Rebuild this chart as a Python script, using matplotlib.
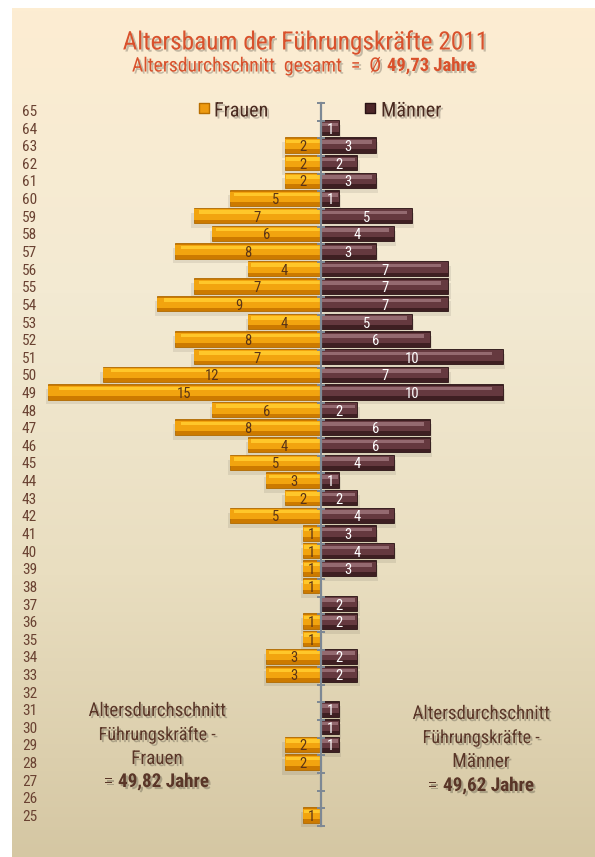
import numpy as np
import matplotlib
matplotlib.use("Agg")
import matplotlib.pyplot as plt
import matplotlib.patheffects as pe
from matplotlib import font_manager as fm
from matplotlib.colors import LinearSegmentedColormap

# data
ages = list(range(65, 24, -1))
frauen = [0, 0, 2, 2, 2, 5, 7, 6, 8, 4, 7, 9, 4, 8, 7, 12, 15, 6, 8, 4, 5,
          3, 2, 5, 1, 1, 1, 1, 0, 1, 1, 3, 3, 0, 0, 0, 2, 2, 0, 0, 1]
maenner = [0, 1, 3, 2, 3, 1, 5, 4, 3, 7, 7, 7, 5, 6, 10, 7, 10, 2, 6, 6, 4,
           1, 2, 4, 3, 4, 3, 0, 2, 2, 0, 2, 2, 0, 1, 1, 1, 0, 0, 0, 0]
title = "Altersbaum der Führungskräfte 2011"
subtitle = "Altersdurchschnitt  gesamt  =  Ø "
subtitle_bold = "49,73 Jahre"
avg_frauen = "49,82 Jahre"
avg_maenner = "49,62 Jahre"


def pick_font(bold):
    # look for a narrow / condensed face, fall back to DejaVu Sans
    want = 700 if bold else 400
    for fam in ["Liberation Sans Narrow", "Roboto Condensed", "Open Sans Condensed",
                "Noto Sans", "Open Sans", "Roboto", "DejaVu Sans"]:
        best = None
        for e in fm.fontManager.ttflist:
            if e.name != fam or e.style != "normal":
                continue
            narrow = "Narrow" in fam or "Condensed" in fam or str(e.stretch) in ("condensed", "semi-condensed")
            if not narrow:
                continue
            w = e.weight if isinstance(e.weight, int) else (700 if "bold" in str(e.weight) else 400)
            d = abs(w - want)
            if best is None or d < best[0]:
                best = (d, e.fname)
        if best is not None and best[0] <= 100:
            return fm.FontProperties(fname=best[1])
    return fm.FontProperties(family="DejaVu Sans", weight="bold" if bold else "normal")


FP = pick_font(False)
FPB = pick_font(True)

W, H = 595, 857
fig = plt.figure(figsize=(W / 100, H / 100), dpi=100)
fig.patch.set_facecolor("white")

# background panel with vertical gradient
bg = fig.add_axes([12 / W, 0, 1 - 12 / W, 1 - 8 / H])
bg.axis("off")
cmap = LinearSegmentedColormap.from_list("bg", ["#FDEDD2", "#F3EAD3", "#E9DEC0", "#D5C7A3"])
grad = np.linspace(0, 1, 256).reshape(-1, 1)
bg.imshow(grad, aspect="auto", cmap=cmap, extent=[0, 1, 0, 1], origin="upper")

# chart axes covering whole figure, px -> data scale
cx, unit = 321, 18.2
row, y65 = 17.625, 112
ax = fig.add_axes([0, 0, 1, 1])
ax.patch.set_alpha(0)
ax.axis("off")
ax.set_xlim(-cx / unit, (W - cx) / unit)
ax.set_ylim(65 - (H - y65) / row, 65 + y65 / row)

ages = np.array(ages)
f = np.array(frauen)
m = np.array(maenner)
yb = ages + 0.12
h = 0.87

# shadows
ax.barh(yb - 0.28, -f, height=h, color="black", alpha=0.08, left=-0.12 * (f > 0))
ax.barh(yb - 0.28, m, height=h, color="black", alpha=0.08, left=0.12 * (m > 0))

# Frauen bars (glossy look from stacked layers)
ax.barh(yb, -f, height=h, color="#CC7A00", edgecolor="#B06A00", linewidth=0.6)
ax.barh(yb + 0.06, -f, height=0.58, color="#F2A40F", linewidth=0)
ax.barh(yb + 0.2, -f * 0.96, height=0.2, color="#FFC72A", linewidth=0)

# Männer bars
ax.barh(yb, m, height=h, color="#3E1F22", edgecolor="#2A1214", linewidth=0.6)
ax.barh(yb + 0.06, m, height=0.58, color="#65393F", linewidth=0)
ax.barh(yb + 0.18, m * 0.94, height=0.2, color="#946A70", linewidth=0)

# value labels
for a, fv, mv in zip(yb, f, m):
    if fv:
        ax.text(-fv / 2, a - 0.12, str(fv), ha="center", va="center",
                fontproperties=FP, fontsize=10.5, color="#5A3418")
    if mv:
        ax.text(mv / 2, a - 0.12, str(mv), ha="center", va="center",
                fontproperties=FP, fontsize=10.5, color="white")

# central axis with ticks
axc = "#7D8894"
ax.plot([0, 0], [ages.min() - 0.5, ages.max() + 0.5], color=axc, lw=1.6, zorder=5)
bounds = np.arange(ages.min() - 0.5, ages.max() + 0.6, 1.0)
ax.hlines(bounds, -0.2, 0.2, color=axc, lw=1.4, zorder=5)

# age labels
for a in ages:
    ax.text((22 - cx) / unit, a, str(a), ha="left", va="center",
            fontproperties=FP, fontsize=11, color="#6A4232")

shadow = [pe.withSimplePatchShadow(offset=(1.5, -1.5), shadow_rgbFace="black", alpha=0.22)]

fig.canvas.draw()
renderer = fig.canvas.get_renderer()


def fitted(x, y, s, width, size, bold=False, **kw):
    # place text, then scale its size so it spans the width seen in the reference
    t = fig.text(x / W, 1 - y / H, s, fontproperties=FPB if bold else FP,
                 va="center", path_effects=shadow, **kw)
    t.set_fontsize(size)
    wpx = t.get_window_extent(renderer).width
    t.set_fontsize(min(size * width / wpx, size * 1.4))
    return t


# legend
ly = 65.15
ax.scatter([(204 - cx) / unit], [ly + 0.1], marker="s", s=45, color="#EE9A10",
           edgecolor="#B86E00", zorder=6)
ax.scatter([(370 - cx) / unit], [ly + 0.1], marker="s", s=45, color="#4E2629",
           edgecolor="#2A1214", zorder=6)
legc = "#4A2A20"
fitted(214, 111, "Frauen", 54, 13, ha="left", color=legc)
fitted(381, 111, "Männer", 60, 13, ha="left", color=legc)

# title
red = "#D9512C"
fitted(305, 42, title, 366, 18, ha="center", color=red)
fitted(385, 66, subtitle, 252, 13, ha="right", color=red)
fitted(387, 66, subtitle_bold, 88, 13, bold=True, ha="left", color=red)

# average annotations
brown = "#5A3628"
fitted(157, 711, "Altersdurchschnitt", 138, 14, ha="center", color=brown)
fitted(157, 735, "Führungskräfte -", 118, 14, ha="center", color=brown)
fitted(157, 759, "Frauen", 52, 14, ha="center", color=brown)
fitted(113, 782, "=", 9, 14, ha="right", color=brown)
fitted(118, 782, avg_frauen, 91, 15, bold=True, ha="left", color=brown)

fitted(481, 714, "Altersdurchschnitt", 138, 14, ha="center", color=brown)
fitted(481, 738, "Führungskräfte -", 118, 14, ha="center", color=brown)
fitted(481, 762, "Männer", 58, 14, ha="center", color=brown)
fitted(437, 786, "=", 9, 14, ha="right", color=brown)
fitted(443, 786, avg_maenner, 91, 15, bold=True, ha="left", color=brown)

fig.savefig("out.png", dpi=100)
